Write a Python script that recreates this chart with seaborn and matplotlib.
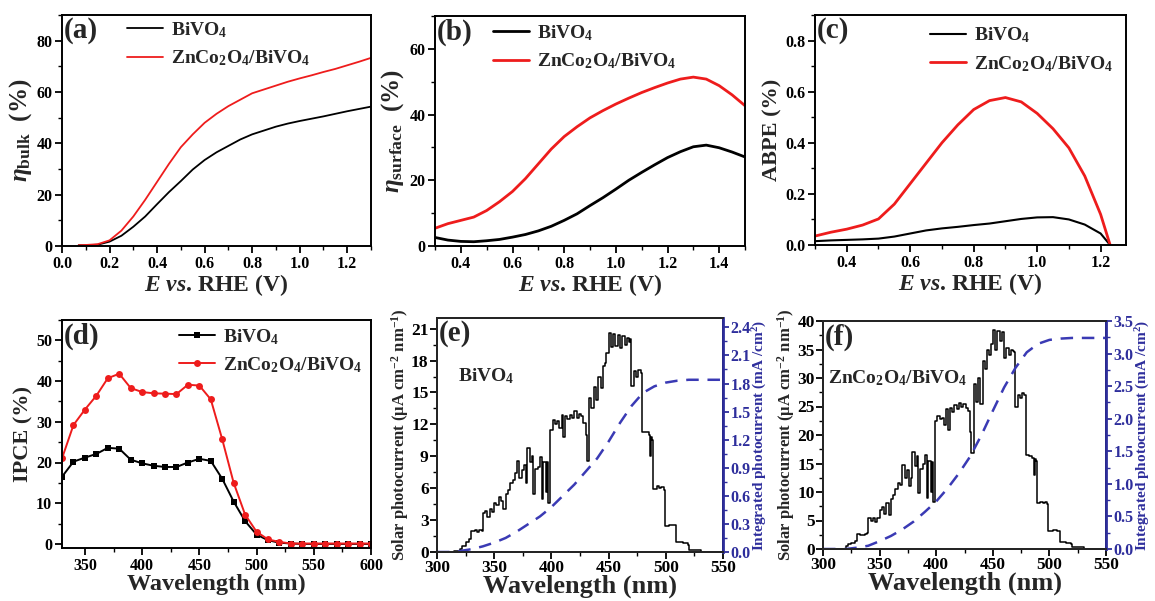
import matplotlib
matplotlib.use('Agg')
import matplotlib.pyplot as plt
import seaborn as sns
from matplotlib.ticker import AutoMinorLocator, MultipleLocator, FormatStrFormatter

# ---- (a) bulk efficiency ----
a_x = [0.07, 0.1, 0.15, 0.2, 0.25, 0.3, 0.35, 0.4, 0.45, 0.5, 0.55, 0.6, 0.65, 0.7, 0.75,
       0.8, 0.85, 0.9, 0.95, 1.0, 1.05, 1.1, 1.15, 1.2, 1.25, 1.3]
a_bivo4 = [0.3, 0.3, 0.5, 1.7, 4.0, 7.5, 11.5, 16.3, 21.0, 25.3, 29.8, 33.5, 36.5, 39.0, 41.5,
           43.5, 45.0, 46.5, 47.7, 48.7, 49.6, 50.5, 51.5, 52.5, 53.4, 54.3]
a_zco = [0.3, 0.4, 0.7, 2.2, 6.0, 11.5, 18.0, 25.0, 32.0, 38.5, 43.5, 48.0, 51.5, 54.5, 57.0,
         59.5, 61.0, 62.5, 64.0, 65.3, 66.5, 67.8, 69.0, 70.4, 71.8, 73.3]

# ---- (b) surface efficiency ----
b_x = [0.3, 0.35, 0.4, 0.45, 0.5, 0.55, 0.6, 0.65, 0.7, 0.75, 0.8, 0.85, 0.9, 0.95, 1.0,
       1.05, 1.1, 1.15, 1.2, 1.25, 1.3, 1.35, 1.4, 1.45, 1.5]
b_bivo4 = [2.6, 1.8, 1.4, 1.3, 1.6, 2.0, 2.7, 3.5, 4.6, 6.0, 7.8, 9.8, 12.3, 14.7, 17.3,
           20.0, 22.4, 24.7, 26.9, 28.7, 30.2, 30.7, 29.9, 28.6, 27.1]
b_zco = [5.4, 6.8, 7.8, 8.8, 10.8, 13.5, 16.6, 20.5, 25.0, 29.5, 33.3, 36.3, 39.0, 41.2, 43.2,
         45.0, 46.7, 48.2, 49.6, 50.8, 51.4, 50.8, 48.8, 46.0, 42.7]

# ---- (c) ABPE ----
c_x = [0.3, 0.35, 0.4, 0.45, 0.5, 0.55, 0.6, 0.65, 0.7, 0.75, 0.8, 0.85, 0.9, 0.95, 1.0,
       1.05, 1.1, 1.15, 1.2, 1.23]
c_bivo4 = [0.015, 0.018, 0.02, 0.022, 0.025, 0.033, 0.045, 0.057, 0.065, 0.071, 0.078, 0.084,
           0.093, 0.102, 0.108, 0.109, 0.1, 0.08, 0.045, 0.0]
c_zco = [0.035, 0.05, 0.062, 0.078, 0.102, 0.16, 0.24, 0.32, 0.4, 0.47, 0.53, 0.565, 0.577,
         0.56, 0.515, 0.455, 0.38, 0.27, 0.12, 0.0]

# ---- (d) IPCE ----
d_wl = [330, 340, 350, 360, 370, 380, 390, 400, 410, 420, 430, 440, 450, 460, 470, 480, 490,
        500, 510, 520, 530, 540, 550, 560, 570, 580, 590, 600]
d_bivo4 = [16.5, 20.2, 21.2, 22.1, 23.6, 23.4, 20.7, 19.8, 19.2, 18.9, 18.9, 20.0, 20.9, 20.4,
           16.0, 10.4, 5.6, 2.3, 0.9, 0.3, 0.1, 0.0, 0.0, 0.0, 0.0, 0.0, 0.0, 0.0]
d_zco = [21.0, 29.2, 33.0, 36.4, 40.7, 41.8, 38.3, 37.3, 37.0, 36.9, 36.8, 39.1, 38.9, 35.5,
         25.7, 15.0, 7.2, 3.0, 1.1, 0.5, 0.1, 0.1, 0.1, 0.1, 0.1, 0.1, 0.1, 0.1]

# ---- (e)/(f) solar photocurrent spectra ----
sp_wl = [300, 310, 315, 320, 322, 325, 328, 330, 333, 335, 337, 339, 340, 342, 344, 346, 348,
         350, 352, 354, 356, 358, 360, 362, 364, 366, 368, 370, 372, 374, 376, 378, 379, 381,
         383, 384, 386, 388, 390, 392, 393, 395, 396, 397, 399, 401, 403, 405, 407, 409, 410,
         412, 414, 416, 418, 420, 422, 424, 426, 428, 430, 431, 433, 435, 437, 439, 441, 443,
         445, 447, 448, 450, 452, 454, 456, 458, 460, 462, 464, 466, 468, 469, 470, 472, 474,
         476, 478, 479, 482, 485, 486, 487, 488, 489, 492, 494, 496, 498, 499, 503, 507, 509,
         515, 519, 520, 530, 531, 550]
e_solar = [0, 0, 0.1, 0.3, 0.6, 0.9, 1.2, 2.0, 2.1, 1.9, 2.1, 2.0, 3.7, 3.9, 3.3, 4.0, 3.8,
           4.6, 4.4, 5.2, 4.8, 4.0, 5.5, 5.8, 6.5, 6.8, 7.4, 8.6, 7.0, 7.7, 8.2, 6.5, 9.8, 8.5,
           9.0, 5.5, 7.8, 8.0, 8.9, 5.0, 8.5, 5.6, 8.5, 4.6, 11.5, 12.4, 12.0, 12.3, 11.7, 12.9,
           10.8, 12.8, 12.5, 12.9, 12.6, 13.3, 12.6, 13.0, 12.8, 12.1, 11.0, 8.6, 14.5, 13.5,
           15.5, 14.3, 16.5, 15.4, 17.5, 17.8, 18.7, 20.6, 19.3, 20.5, 19.4, 20.4, 19.2, 20.3,
           19.5, 20.1, 19.7, 20.0, 15.6, 17.0, 16.5, 17.1, 16.8, 11.3, 11.3, 11.0, 9.0, 10.8,
           10.5, 5.9, 6.2, 6.0, 6.1, 5.8, 2.4, 2.5, 2.5, 0.9, 0.8, 0.7, 0.2, 0.15, 0, 0]
f_solar = [0, 0, 0, 0.5, 0.8, 1.0, 1.4, 2.6, 2.5, 2.4, 2.6, 2.8, 5.4, 5.0, 5.5, 4.8, 5.5,
           6.8, 7.3, 6.2, 8.0, 5.9, 8.8, 9.5, 10.5, 11.5, 11.3, 14.8, 12.5, 13.8, 11.0, 12.5,
           17.0, 14.5, 16.3, 9.8, 14.0, 15.0, 16.5, 9.0, 15.5, 10.0, 15.3, 8.3, 22.5, 23.3,
           22.8, 23.0, 21.8, 24.5, 20.8, 24.8, 24.0, 25.3, 24.5, 25.7, 25.0, 25.5, 24.8, 24.2,
           20.5, 16.8, 29.0, 25.8, 30.0, 25.5, 33.0, 31.5, 35.0, 34.0, 36.0, 38.5, 35.0, 38.2,
           36.5, 38.0, 33.5, 35.2, 34.0, 35.0, 34.8, 34.5, 25.0, 27.0, 26.5, 27.3, 27.0, 16.5,
           16.3, 16.0, 13.0, 15.8, 15.5, 8.0, 8.2, 8.1, 8.3, 7.9, 3.1, 3.3, 3.2, 1.2, 1.0, 0.8,
           0.4, 0.3, 0, 0]

int_wl = [300, 310, 320, 330, 340, 350, 360, 370, 380, 390, 400, 410, 420, 430, 440, 450,
          460, 470, 480, 490, 500, 510, 520, 530, 540, 550]
e_int = [0, 0, 0.01, 0.03, 0.06, 0.1, 0.15, 0.22, 0.3, 0.38, 0.48, 0.6, 0.72, 0.86, 1.0,
         1.18, 1.38, 1.56, 1.7, 1.77, 1.81, 1.83, 1.84, 1.84, 1.84, 1.84]
f_int = [0, 0, 0, 0.02, 0.05, 0.12, 0.2, 0.3, 0.42, 0.57, 0.73, 0.93, 1.16, 1.42, 1.75,
         2.12, 2.48, 2.78, 3.02, 3.15, 3.21, 3.23, 3.24, 3.24, 3.24, 3.24]

LBL_BI = 'BiVO$_4$'
LBL_ZN = 'ZnCo$_2$O$_4$/BiVO$_4$'
RED = '#ee1c1c'
BLUE = '#2e2e9c'
DASH = '#3a3ab4'

sns.set_theme(style='ticks')
plt.rcParams['font.family'] = ['Liberation Serif', 'DejaVu Serif']
plt.rcParams['font.weight'] = 'bold'
plt.rcParams['axes.labelweight'] = 'bold'
plt.rcParams['mathtext.fontset'] = 'custom'
plt.rcParams['mathtext.rm'] = 'Liberation Serif:bold'
plt.rcParams['mathtext.it'] = 'Liberation Serif:italic:bold'
plt.rcParams['mathtext.bf'] = 'Liberation Serif:bold'
plt.rcParams['axes.linewidth'] = 1.4
plt.rcParams['xtick.color'] = 'black'
plt.rcParams['ytick.color'] = 'black'

W, H = 1155, 601
fig = plt.figure(figsize=(W / 100, H / 100), dpi=100)


def make_ax(l, r, t, b):
    return fig.add_axes([l / W, 1 - b / H, (r - l) / W, (b - t) / H])


def style(ax, tag, xlabel, ylabel, xfs=17, yfs=16, tfs=11.5, pad=2):
    ax.xaxis.set_minor_locator(AutoMinorLocator(2))
    ax.yaxis.set_minor_locator(AutoMinorLocator(2))
    ax.tick_params(which='major', direction='out', length=5, width=1.3, labelsize=tfs, pad=pad)
    ax.tick_params(which='minor', direction='out', length=3, width=1.0)
    for lab in ax.get_xticklabels() + ax.get_yticklabels():
        lab.set_fontweight('bold')
    for s in ax.spines.values():
        s.set_visible(True)
        s.set_color('black')
    ax.set_xlabel(xlabel, fontsize=xfs, labelpad=0)
    ax.set_ylabel(ylabel, fontsize=yfs, labelpad=2)
    ax.text(0.005, 0.99, tag, transform=ax.transAxes, ha='left', va='top',
            fontsize=21, fontweight='bold')


def legend(ax, x, y=0.978):
    ax.legend(loc='upper left', bbox_to_anchor=(x, y), frameon=False, fontsize=14,
              handlelength=1.85, handletextpad=0.4, labelspacing=0.45,
              borderpad=0, borderaxespad=0)


E_LABEL = r'$\mathit{E}$ $\mathit{vs}$. RHE (V)'

# (a)
ax = make_ax(62, 371, 15, 246)
sns.lineplot(x=a_x, y=a_bivo4, ax=ax, color='black', lw=1.3, label=LBL_BI, sort=False)
sns.lineplot(x=a_x, y=a_zco, ax=ax, color=RED, lw=1.3, label=LBL_ZN, sort=False)
ax.set_xlim(0, 1.3)
ax.set_ylim(0, 90)
ax.xaxis.set_major_locator(MultipleLocator(0.2))
ax.xaxis.set_major_formatter(FormatStrFormatter('%.1f'))
ax.yaxis.set_major_locator(MultipleLocator(20))
style(ax, '(a)', E_LABEL, r'$\mathit{\eta}_{\rm bulk}$  (%)', yfs=18)
legend(ax, 0.21)

# (b)
ax = make_ax(435, 745, 16, 246)
sns.lineplot(x=b_x, y=b_bivo4, ax=ax, color='black', lw=2.0, label=LBL_BI, sort=False)
sns.lineplot(x=b_x, y=b_zco, ax=ax, color=RED, lw=2.0, label=LBL_ZN, sort=False)
ax.set_xlim(0.3, 1.5)
ax.set_ylim(0, 70)
ax.set_xticks([0.4, 0.6, 0.8, 1.0, 1.2, 1.4])
ax.xaxis.set_major_formatter(FormatStrFormatter('%.1f'))
ax.yaxis.set_major_locator(MultipleLocator(20))
style(ax, '(b)', E_LABEL, r'$\mathit{\eta}_{\rm surface}$  (%)', yfs=18)
legend(ax, 0.187, 0.97)

# (c)
ax = make_ax(815, 1126, 15, 245)
sns.lineplot(x=c_x, y=c_bivo4, ax=ax, color='black', lw=1.5, label=LBL_BI, sort=False)
sns.lineplot(x=c_x, y=c_zco, ax=ax, color=RED, lw=2.0, label=LBL_ZN, sort=False)
ax.set_xlim(0.3, 1.28)
ax.set_ylim(0, 0.9)
ax.set_xticks([0.4, 0.6, 0.8, 1.0, 1.2])
ax.xaxis.set_major_formatter(FormatStrFormatter('%.1f'))
ax.yaxis.set_major_locator(MultipleLocator(0.2))
ax.yaxis.set_major_formatter(FormatStrFormatter('%.1f'))
style(ax, '(c)', E_LABEL, 'ABPE (%)')
legend(ax, 0.37, 0.955)

# (d)
ax = make_ax(62, 371, 320, 548)
sns.lineplot(x=d_wl, y=d_bivo4, ax=ax, color='black', lw=1.4, marker='s', markersize=4.5,
             markeredgewidth=0, label=LBL_BI, sort=False)
sns.lineplot(x=d_wl, y=d_zco, ax=ax, color=RED, lw=1.4, marker='o', markersize=5,
             markeredgewidth=0, label=LBL_ZN, sort=False)
ax.set_xlim(330, 600)
ax.set_ylim(-1, 55)
ax.set_xticks([350, 400, 450, 500, 550, 600])
ax.yaxis.set_major_locator(MultipleLocator(10))
style(ax, '(d)', 'Wavelength (nm)', 'IPCE (%)', xfs=17.5)
legend(ax, 0.38, 0.97)


def spectrum(l, r, t, b, solar, integ, tag, ymax_l, ystep_l, ymax_r, ystep_r, name, name_xy):
    ax = make_ax(l, r, t, b)
    sns.lineplot(x=sp_wl, y=solar, ax=ax, color='black', lw=1.1, drawstyle='steps-post',
                 sort=False)
    ax.set_xlim(300, 550)
    ax.set_ylim(0, ymax_l)
    ax.set_xticks([300, 350, 400, 450, 500, 550])
    ax.yaxis.set_major_locator(MultipleLocator(ystep_l))
    style(ax, tag, 'Wavelength (nm)', 'Solar photocurrent (μA cm$^{-2}$ nm$^{-1}$)',
          xfs=19, yfs=12, tfs=12.5, pad=1)
    ax.xaxis.labelpad = -1
    ax.yaxis.labelpad = 0
    ax.text(name_xy[0], name_xy[1], name, fontsize=14, fontweight='bold', ha='left',
            va='center')
    ax2 = ax.twinx()
    sns.lineplot(x=int_wl, y=integ, ax=ax2, color=DASH, lw=1.8, sort=False)
    ax2.lines[-1].set_linestyle((0, (5, 3.5)))
    ax2.set_ylim(0, ymax_r)
    ax2.yaxis.set_major_locator(MultipleLocator(ystep_r))
    ax2.yaxis.set_minor_locator(AutoMinorLocator(2))
    ax2.yaxis.set_major_formatter(FormatStrFormatter('%.1f'))
    ax2.tick_params(which='major', direction='out', length=4.5, width=1.3, labelsize=11.5,
                    colors=BLUE, pad=1)
    ax2.tick_params(which='minor', direction='out', length=3, width=1.0, colors=BLUE)
    for lab in ax2.get_yticklabels():
        lab.set_fontweight('bold')
    ax2.spines['right'].set_color(BLUE)
    ax2.spines['right'].set_linewidth(2.0)
    ax2.set_ylabel('Integrated photocurrent (mA /cm$^2$)', fontsize=11, color=BLUE,
                   labelpad=0)
    return ax


# (e)
spectrum(437, 723, 318, 552, e_solar, e_int, '(e)', 22, 3, 2.5, 0.3,
         LBL_BI, (318, 16.5))
# (f)
spectrum(823, 1106, 321, 549, f_solar, f_int, '(f)', 40, 5, 3.5, 0.5,
         LBL_ZN, (304, 30))

fig.savefig('out.png', dpi=100)
